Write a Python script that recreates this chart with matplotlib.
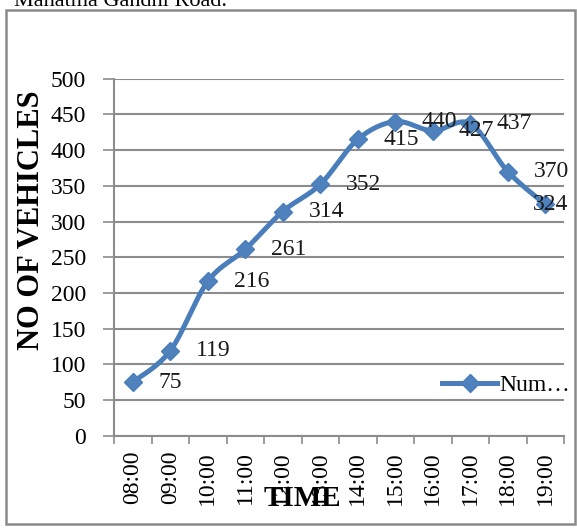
import numpy as np
import matplotlib
matplotlib.use('Agg')
import matplotlib.pyplot as plt
from matplotlib.lines import Line2D
from matplotlib.patches import Rectangle

# ---- data ----
times = ["08:00", "09:00", "10:00", "11:00", "12:00", "13:00",
         "14:00", "15:00", "16:00", "17:00", "18:00", "19:00"]
vehicles = [75, 119, 216, 261, 314, 352, 415, 440, 427, 437, 370, 324]
series_name = "Num\u2026"
y_ticks = list(range(0, 501, 50))
y_label = "NO OF VEHICLES"
x_label = "TIME"
caption = "Mahatma Gandhi Road."

plt.rcParams['font.family'] = ['Liberation Serif', 'DejaVu Serif']

W, H = 577, 531
fig = plt.figure(figsize=(W / 100, H / 100), dpi=100)
fig.patch.set_facecolor('white')


def fx(px):
    return px / W


def fy(py):
    return 1 - py / H


LINE_C = '#4A7EBB'
MARK_C = '#4F81BD'
GRID_C = '#8C8C8C'

ax = fig.add_axes([fx(114), fy(435.7), fx(564) - fx(114), fy(78.7) - fy(435.7)])

x = np.arange(len(times), dtype=float)
y = np.array(vehicles, dtype=float)


def smooth(xs, ys, n=24):
    P = np.column_stack([xs, ys])
    P = np.vstack([P[0], P, P[-1]])
    out = []
    t = np.linspace(0, 1, n, endpoint=False)[:, None]
    for i in range(1, len(P) - 2):
        p0, p1, p2, p3 = P[i - 1], P[i], P[i + 1], P[i + 2]
        c1 = p1 + (p2 - p0) / 6
        c2 = p2 - (p3 - p1) / 6
        b = (1 - t) ** 3 * p1 + 3 * (1 - t) ** 2 * t * c1 + 3 * (1 - t) * t ** 2 * c2 + t ** 3 * p2
        out.append(b)
    out.append(P[-2][None, :])
    return np.vstack(out)


curve = smooth(x, y)
ax.plot(curve[:, 0], curve[:, 1], color=LINE_C, lw=3.6, solid_capstyle='round', zorder=3)
ax.plot(x, y, ls='none', marker='D', ms=9, mfc=MARK_C, mec=LINE_C, zorder=4)

# data labels
for i, (xi, yi) in enumerate(zip(x, vehicles)):
    off = 26 if i < len(vehicles) - 1 else -12
    ax.annotate(str(yi), (xi, yi), xytext=(off, 0), textcoords='offset pixels',
                ha='left', va='center', fontsize=17, color='#1a1a1a', zorder=5,
                annotation_clip=False)

ax.set_xlim(-0.5, len(times) - 0.5)
ax.set_ylim(0, 500)
ax.set_yticks(y_ticks)
ax.set_yticklabels([str(v) for v in y_ticks], fontsize=17)
ax.set_xticks(x)
ax.set_xticklabels(times, rotation=90, fontsize=17)
ax.set_xticks(np.arange(-0.5, len(times), 1.0), minor=True)

ax.tick_params(axis='x', which='major', length=0, pad=11)
ax.tick_params(axis='x', which='minor', length=6, width=1.2, color=GRID_C, direction='out')
ax.tick_params(axis='y', which='major', length=8, width=1.2, color=GRID_C, direction='out', pad=12)

ax.grid(axis='y', color=GRID_C, lw=1.5, zorder=0)
ax.set_axisbelow(True)
for s in ['top', 'right']:
    ax.spines[s].set_visible(False)
for s in ['left', 'bottom']:
    ax.spines[s].set_color(GRID_C)
    ax.spines[s].set_linewidth(1.5)

# axis titles
fig.text(fx(32), fy(220), y_label, rotation=90, ha='center', va='center',
         fontsize=22, fontweight='bold')
fig.text(fx(302), fy(498), x_label, ha='center', va='center', fontsize=21,
         fontweight='bold')

# legend
handle = Line2D([], [], color=LINE_C, lw=3.6, marker='D', ms=9, mfc=MARK_C, mec=LINE_C)
fig.legend([handle], [series_name], loc='center left',
           bbox_to_anchor=(fx(442), fy(385)), bbox_transform=fig.transFigure,
           frameon=False, fontsize=17, handlelength=2.35, handletextpad=0.1,
           borderpad=0, borderaxespad=0)

# caption (partly cut at top) and outer frame
fig.text(fx(14), fy(6.5), caption, ha='left', va='baseline', fontsize=16)
fig.patches.append(Rectangle((fx(6), fy(524)), fx(575) - fx(6), fy(10) - fy(524),
                             transform=fig.transFigure, fill=False,
                             ec='#8A8A8A', lw=1.8))

fig.savefig('out.png', dpi=100)
